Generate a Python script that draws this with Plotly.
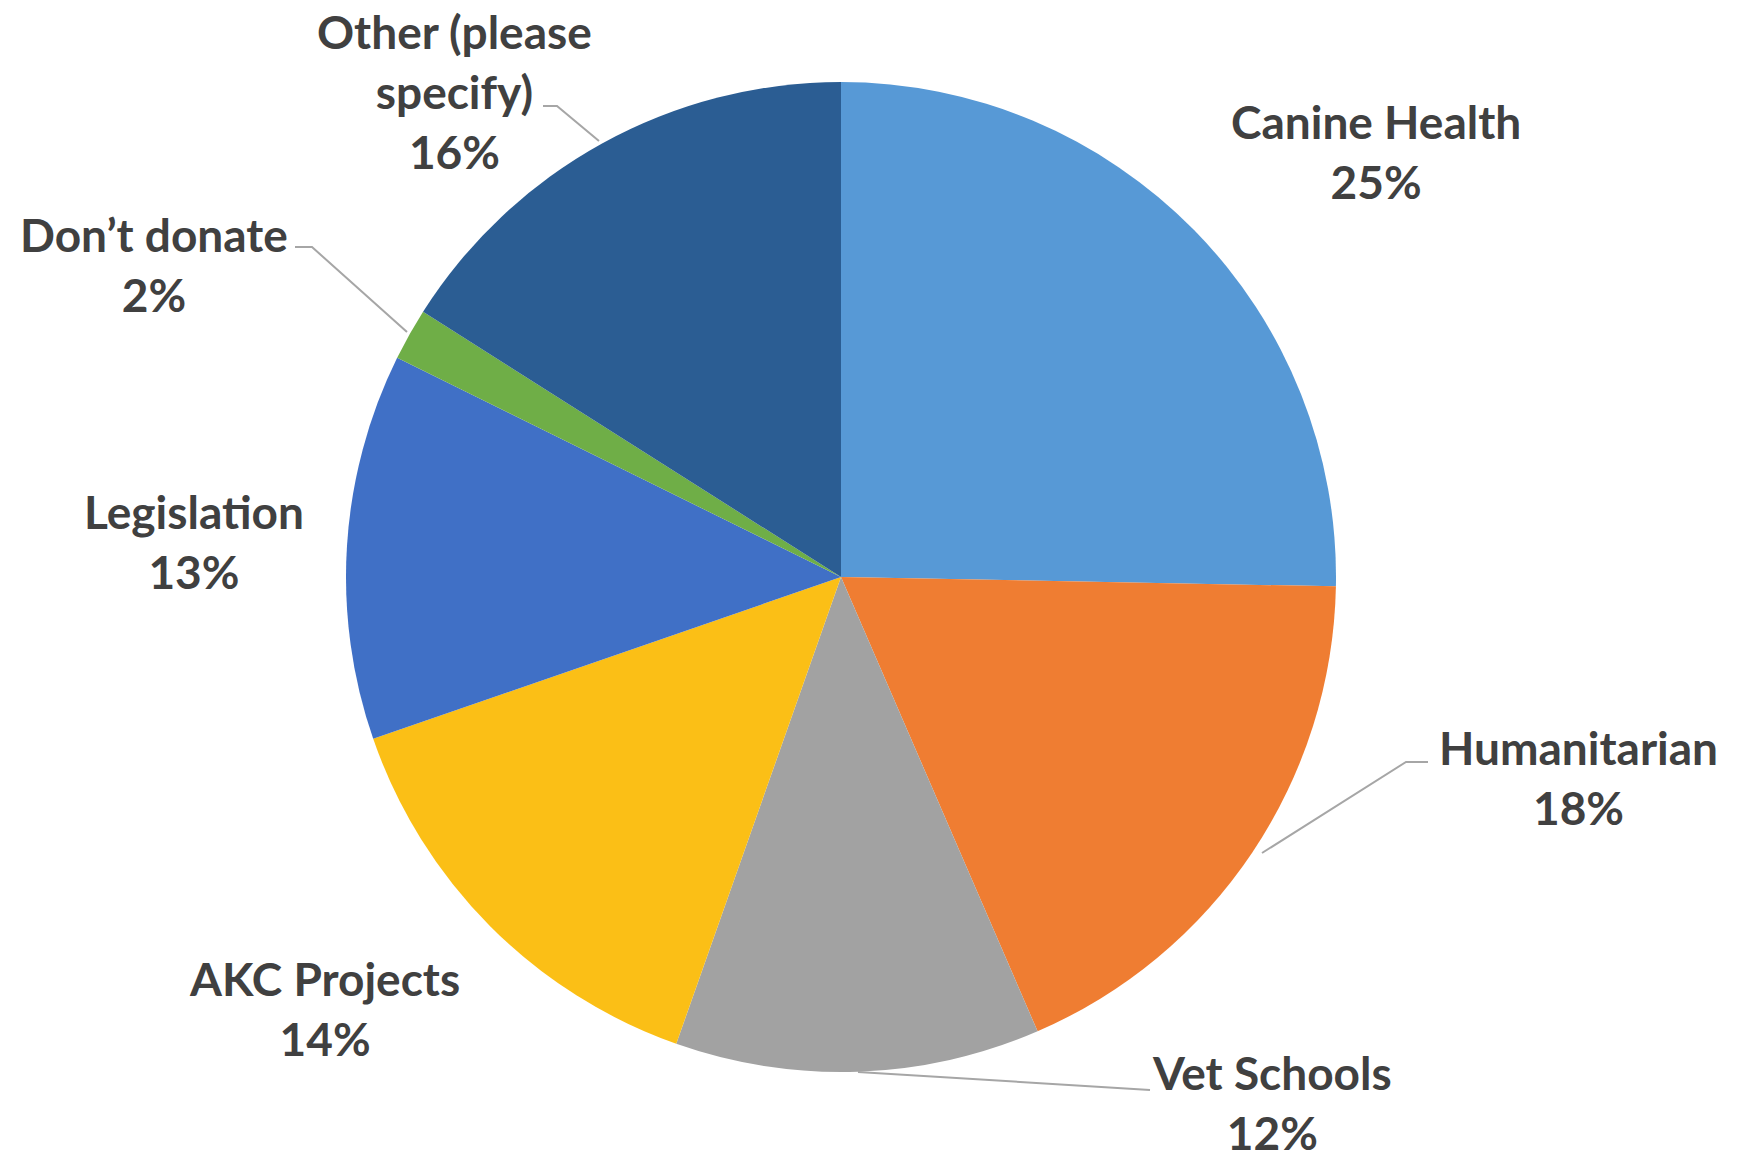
import plotly.graph_objects as go

W, H = 1747, 1154

labels = ["Canine Health", "Humanitarian", "Vet Schools", "AKC Projects",
          "Legislation", "Don\u2019t donate", "Other (please<br>specify)"]
values = [25.3, 18.2, 11.9, 14.3, 12.6, 1.7, 16.0]
pct_text = ["25%", "18%", "12%", "14%", "13%", "2%", "16%"]
colors = ["#5799d6", "#ef7d32", "#a2a2a2", "#fbbf16", "#4070c6", "#6fae47", "#2b5d93"]

# label anchor positions (pixels) and leader lines (pixels)
label_pos = [(1376, 151), (1578, 777), (1272, 1102), (324, 1008),
             (194, 541), (154, 264), (454, 91)]
leaders = [None, [(1428, 762), (1406, 762), (1262, 853)],
           [(1150, 1090), (858, 1072)], None, None,
           [(295, 247), (312, 247), (407, 332)],
           [(543, 106), (557, 106), (599, 141)]]

cx, cy, r = 841, 577, 495

fig = go.Figure(go.Pie(
    labels=[l.replace("<br>", " ") for l in labels], values=values, sort=False,
    direction="clockwise", rotation=0,
    marker=dict(colors=colors, line=dict(width=0)),
    textinfo="none", hoverinfo="label+percent", showlegend=False,
    domain=dict(x=[(cx - r) / W, (cx + r) / W], y=[(H - cy - r) / H, (H - cy + r) / H]),
))

def px(x, y):
    return x / W, 1 - y / H

annotations = []
for lab, pct, (x, y) in zip(labels, pct_text, label_pos):
    ax, ay = px(x, y)
    annotations.append(dict(
        x=ax, y=ay, xref="paper", yref="paper", showarrow=False,
        text=f"{lab}<br>{pct}", xanchor="center", yanchor="middle", align="center",
        font=dict(family="Lato", size=46, color="#404040", weight="bold"),
    ))

shapes = []
for pts in leaders:
    if not pts:
        continue
    p = [px(x, y) for x, y in pts]
    path = "M " + " L ".join(f"{a:.5f},{b:.5f}" for a, b in p)
    shapes.append(dict(type="path", path=path, xref="paper", yref="paper",
                       line=dict(color="#a6a6a6", width=2)))

fig.update_layout(
    width=W, height=H, margin=dict(l=0, r=0, t=0, b=0),
    paper_bgcolor="white", plot_bgcolor="white",
    annotations=annotations, shapes=shapes,
)

fig.write_html(
    "out.html",
    config={"displayModeBar": False},
    post_script="document.body.style.margin='0';document.body.style.overflow='hidden';",
)
